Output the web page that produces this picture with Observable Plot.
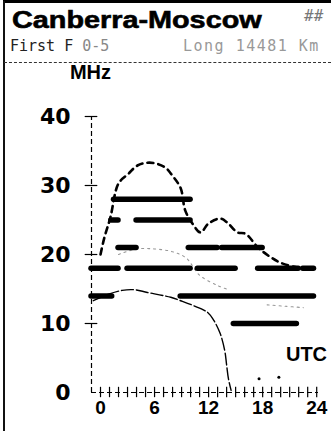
<!DOCTYPE html>
<html><head><meta charset="utf-8">
<script src="https://cdn.jsdelivr.net/npm/d3@7"></script>
<script src="https://cdn.jsdelivr.net/npm/@observablehq/plot@0.6"></script>
<style>
html,body{margin:0;padding:0;background:#fff;}
#wrap{position:relative;width:331px;height:433px;overflow:hidden;background:#fff;font-family:"Liberation Sans",Arial,sans-serif;color:#000;}
#frameL{position:absolute;left:3px;top:1px;width:2px;height:430px;background:#111;}
#frameT{position:absolute;left:3px;top:0px;width:328px;height:3px;background:#000;}
#rule{position:absolute;left:4px;top:62px;width:327px;border-top:1.5px dashed #333;}
#title{position:absolute;left:12px;top:8px;font-weight:bold;font-size:24px;line-height:24px;transform:scaleX(1.2);transform-origin:left top;white-space:nowrap;-webkit-text-stroke:0.6px #000;}
#hash{position:absolute;left:304px;top:8px;font-style:italic;font-size:16px;line-height:16px;color:#777;font-family:"DejaVu Sans Mono",monospace;}
#sub1{position:absolute;left:10px;top:39px;font-family:"DejaVu Sans Mono",monospace;font-size:15px;line-height:15px;color:#222;white-space:nowrap;}
#sub1 span{color:#888;}
#sub2{position:absolute;left:183px;top:39px;font-family:"DejaVu Sans Mono",monospace;font-size:15px;line-height:15px;color:#999;letter-spacing:1.5px;white-space:nowrap;}
#chart{position:absolute;left:0;top:58px;}
</style>
</head><body>
<div id="wrap">
  <div id="frameT"></div>
  <div id="frameL"></div>
  <div id="rule"></div>
  <div id="title">Canberra-Moscow</div>
  <div id="hash">##</div>
  <div id="sub1">First F <span>0-5</span></div>
  <div id="sub2">Long 14481 Km</div>
  <div id="chart"></div>
</div>
<script>
// Tick values
const yTicks = [0, 10, 20, 30, 40];
const xTickLabels = [0, 6, 12, 18, 24];
const hourTicks = d3.range(0, 25);

// Usable-frequency bars (MHz, start UTC, end UTC)
const barFreq  = [28,  25,  25, 21, 21,  21,   18, 18, 18,   18,   18,   14,  14,  10];
const barStart = [1.5, 1.2, 4,  2,  9.8, 13.5, -1, 3,  10.8, 17.5, 22.5, -1,  8.9, 14.8];
const barEnd   = [10,  2,   10, 4,  13,  18,   2,  10, 15,   22,   23.7, 1.3, 23.7, 21.8];

// Upper dashed curve (MUF)
const mufHour = [0, 0.4, 1.1, 2, 3.1, 4.1, 5.2, 6.1, 7.2, 8, 8.9, 9.4, 10.2, 11.1, 12, 13.3, 14.1, 15.2, 16.1, 17.5, 18.9, 20, 21.9, 23];
const mufFreq = [20, 22.3, 25.4, 30.3, 31.7, 32.9, 33.3, 33.2, 32.6, 31.4, 29.6, 26.4, 24.5, 23.2, 24.5, 25.2, 24.6, 23.2, 23, 21, 19.6, 18.8, 18.1, 18];

// Lower thin curve
const lufHour = [-0.8, 0.8, 2.4, 3.7, 5.2, 7.8, 8.9, 10.3, 11.9, 12.6, 13.3, 13.8, 14, 14.2, 14.5];
const lufFreq = [13.3, 14.2, 14.8, 14.9, 14.5, 13.8, 13.3, 12.6, 11.6, 10.4, 8.5, 6, 4, 2, 0.3];

// Faint dotted curve (two pieces)
const faintHour = [2, 4, 6, 8, 9.5, 11, 13, 14,   18.5, 20.5, 22.5];
const faintFreq = [20, 20.8, 20.8, 20.4, 19.5, 17, 15.5, 15,   12.7, 12.5, 12.3];
const faintSeg  = ["a","a","a","a","a","a","a","a", "b","b","b"];

// Stray dots near the baseline
const dotHour = [17.6, 19.8];
const dotFreq = [2, 2.2];

const bars = barFreq.map((f, i) => ({f, s: barStart[i], e: barEnd[i]}));
const muf = mufHour.map((h, i) => ({h, f: mufFreq[i]}));
const luf = lufHour.map((h, i) => ({h, f: lufFreq[i]}));
const faint = faintHour.map((h, i) => ({h, f: faintFreq[i], s: faintSeg[i]}));
const dots = dotHour.map((h, i) => ({h, f: dotFreq[i]}));

const chart = Plot.plot({
  width: 331,
  height: 375,
  marginTop: 58,
  marginBottom: 41,
  marginLeft: 91,
  marginRight: 13,
  style: {background: "transparent", color: "#000"},
  x: {domain: [-1, 24.2]},
  y: {domain: [0, 40]},
  marks: [
    Plot.axisY(yTicks, {tickSize: 0, tickPadding: 21, fontSize: 22, fontWeight: "bold", fontFamily: "DejaVu Sans", label: null}),
    Plot.axisX(xTickLabels, {tickSize: 0, tickPadding: 8, fontSize: 19, fontWeight: "bold", fontFamily: "Liberation Sans", label: null}),
    Plot.ruleX([-1], {y1: 0, y2: 40, stroke: "#000", strokeWidth: 1.2, strokeDasharray: "5,3"}),
    Plot.ruleY([0], {x1: -1, x2: 24.2, stroke: "#000", strokeWidth: 1.2, strokeDasharray: "5,3"}),
    Plot.ruleX(hourTicks, {y1: -0.75, y2: 0.75, stroke: "#000", strokeWidth: 1.2}),
    Plot.ruleY(yTicks.filter(d => d > 0), {x1: -1.7, x2: -0.3, stroke: "#000", strokeWidth: 1.2}),
    Plot.line(faint, {x: "h", y: "f", z: "s", stroke: "#999", strokeWidth: 1.1, strokeDasharray: "2,4", curve: "catmull-rom"}),
    Plot.line(luf, {x: "h", y: "f", stroke: "#000", strokeWidth: 1.4, strokeDasharray: "12,3", curve: "catmull-rom"}),
    Plot.line(muf, {x: "h", y: "f", stroke: "#000", strokeWidth: 2.6, strokeDasharray: "6,5", curve: "catmull-rom"}),
    Plot.ruleY(bars, {y: "f", x1: "s", x2: "e", stroke: "#000", strokeWidth: 5.5, strokeLinecap: "round"}),
    Plot.dot(dots, {x: "h", y: "f", r: 1.5, fill: "#000"}),
    Plot.text(["MHz"], {frameAnchor: "top-left", dy: -52, dx: -1, text: d => d, fontSize: 20, fontWeight: "bold", fontFamily: "Liberation Sans", textAnchor: "middle", fill: "#000"}),
    Plot.text(["UTC"], {frameAnchor: "bottom-right", dx: -12, dy: -32, text: d => d, fontSize: 20, fontWeight: "bold", fontFamily: "Liberation Sans", textAnchor: "middle", fill: "#000"})
  ]
});
document.getElementById("chart").appendChild(chart);
</script>
</body></html>
